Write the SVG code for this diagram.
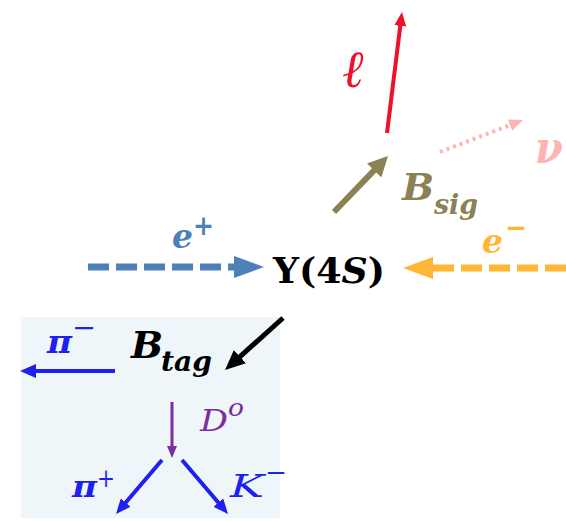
<svg xmlns="http://www.w3.org/2000/svg" width="566" height="521" viewBox="0 0 566 521">
<style>
text{font-family:"DejaVu Serif","Liberation Serif",serif;font-style:italic}
.b{font-weight:bold}
.red{fill:#f0102a}.olive{fill:#8a8254}.pink{fill:#ffb3b3}.steel{fill:#4d7fb9}.orange{fill:#ffb733}.blue{fill:#1f1fef}.purple{fill:#7b2f9e}.black{fill:#000}
line{fill:none}
</style>
<defs>
<marker id="mRed" markerUnits="userSpaceOnUse" viewBox="0 0 14 12" markerWidth="14" markerHeight="12" refX="1" refY="6" orient="auto"><path d="M0,0L14,6L0,12z" fill="#f0102a"/></marker>
<marker id="mOlive" markerUnits="userSpaceOnUse" viewBox="0 0 20 20" markerWidth="20" markerHeight="20" refX="1" refY="10" orient="auto"><path d="M0,0L20,10L0,20z" fill="#8a8254"/></marker>
<marker id="mPink" markerUnits="userSpaceOnUse" viewBox="0 0 14 12" markerWidth="14" markerHeight="12" refX="1" refY="6" orient="auto"><path d="M0,0L14,6L0,12z" fill="#ffb3b3"/></marker>
<marker id="mSteel" markerUnits="userSpaceOnUse" viewBox="0 0 30 22" markerWidth="30" markerHeight="22" refX="1" refY="11" orient="auto"><path d="M0,0L30,11L0,22z" fill="#4d7fb9"/></marker>
<marker id="mOrange" markerUnits="userSpaceOnUse" viewBox="0 0 30 22" markerWidth="30" markerHeight="22" refX="1" refY="11" orient="auto"><path d="M0,0L30,11L0,22z" fill="#ffb733"/></marker>
<marker id="mBlack" markerUnits="userSpaceOnUse" viewBox="0 0 20 18" markerWidth="20" markerHeight="18" refX="1" refY="9" orient="auto"><path d="M0,0L20,9L0,18z" fill="#000"/></marker>
<marker id="mBlue" markerUnits="userSpaceOnUse" viewBox="0 0 16 14" markerWidth="16" markerHeight="14" refX="1" refY="7" orient="auto"><path d="M0,0L16,7L0,14z" fill="#1f1fef"/></marker>
<marker id="mBlueS" markerUnits="userSpaceOnUse" viewBox="0 0 15 13" markerWidth="15" markerHeight="13" refX="1" refY="6.5" orient="auto"><path d="M0,0L15,6.5L0,13z" fill="#1f1fef"/></marker>
<marker id="mPurple" markerUnits="userSpaceOnUse" viewBox="0 0 12 10" markerWidth="12" markerHeight="10" refX="1" refY="5" orient="auto"><path d="M0,0L12,5L0,10z" fill="#7b2f9e"/></marker>
</defs>
<rect id="tag-box" x="21" y="317" width="259" height="201" fill="#eef6fa"/>
<g id="connectors">
<line x1="387" y1="133" x2="400.4" y2="24.9" stroke="#f0102a" stroke-width="4" marker-end="url(#mRed)"/>
<line x1="334" y1="212" x2="374.8" y2="169.7" stroke="#8a8254" stroke-width="6" marker-end="url(#mOlive)"/>
<line x1="440" y1="152" x2="510.9" y2="124.7" stroke="#ffb3b3" stroke-width="4" stroke-dasharray="3 4" marker-end="url(#mPink)"/>
<line x1="88" y1="267" x2="235" y2="267" stroke="#4d7fb9" stroke-width="7" stroke-dasharray="21 7" marker-end="url(#mSteel)"/>
<line x1="566" y1="268" x2="432" y2="268" stroke="#ffb733" stroke-width="7" stroke-dasharray="21 7" marker-end="url(#mOrange)"/>
<line x1="283" y1="318" x2="239.2" y2="357.3" stroke="#000" stroke-width="5" marker-end="url(#mBlack)"/>
<line x1="115" y1="371" x2="35" y2="371" stroke="#1f1fef" stroke-width="4" marker-end="url(#mBlue)"/>
<line x1="172" y1="402" x2="172" y2="447" stroke="#7b2f9e" stroke-width="3" marker-end="url(#mPurple)"/>
<line x1="162" y1="460" x2="125.1" y2="503.3" stroke="#1f1fef" stroke-width="4" marker-end="url(#mBlueS)"/>
<line x1="182" y1="460" x2="218.9" y2="503.3" stroke="#1f1fef" stroke-width="4" marker-end="url(#mBlueS)"/>
</g>
<g id="upsilon"><text x="273" y="283" font-size="36" class="b black" style="font-style:normal" textLength="112" lengthAdjust="spacingAndGlyphs">Υ(4<tspan style="font-style:italic">S</tspan>)</text></g>
<g id="lepton"><text x="343" y="87" font-size="52" class="b red" textLength="22" lengthAdjust="spacingAndGlyphs">ℓ</text></g>
<g id="bsig"><text x="402" y="200" font-size="38" class="b olive">B</text><text x="434" y="214" font-size="27" class="b olive" textLength="44" lengthAdjust="spacingAndGlyphs">sig</text></g>
<g id="neutrino"><text x="535" y="163" font-size="44" class="b pink" textLength="28" lengthAdjust="spacingAndGlyphs">ν</text></g>
<g id="eplus"><text x="172" y="248" font-size="34" class="b steel" textLength="21" lengthAdjust="spacingAndGlyphs">e</text><text x="193" y="235" font-size="28" class="b steel" textLength="21" lengthAdjust="spacingAndGlyphs">+</text></g>
<g id="eminus"><text x="482" y="253" font-size="34" class="b orange" textLength="21" lengthAdjust="spacingAndGlyphs">e</text><text x="505" y="237" font-size="28" class="b orange" textLength="22" lengthAdjust="spacingAndGlyphs">−</text></g>
<g id="btag"><text x="131" y="358" font-size="38" class="b black">B</text><text x="161" y="371" font-size="27" class="b black" textLength="51" lengthAdjust="spacingAndGlyphs">tag</text></g>
<g id="piminus"><text x="47" y="353" font-size="32" class="b blue" textLength="25" lengthAdjust="spacingAndGlyphs">π</text><text x="72" y="337" font-size="28" class="blue" textLength="24" lengthAdjust="spacingAndGlyphs">−</text></g>
<g id="d0"><text x="200" y="431" font-size="30" class="purple" textLength="28" lengthAdjust="spacingAndGlyphs">D</text><text x="228" y="416" font-size="24" class="purple" textLength="16" lengthAdjust="spacingAndGlyphs">o</text></g>
<g id="piplus"><text x="72" y="497" font-size="30" class="b blue" textLength="25" lengthAdjust="spacingAndGlyphs">π</text><text x="97" y="487" font-size="26" class="blue" textLength="18" lengthAdjust="spacingAndGlyphs">+</text></g>
<g id="kminus"><text x="230" y="497" font-size="32" class="blue" textLength="34" lengthAdjust="spacingAndGlyphs">K</text><text x="265" y="481" font-size="26" class="blue" textLength="22" lengthAdjust="spacingAndGlyphs">−</text></g>
</svg>
